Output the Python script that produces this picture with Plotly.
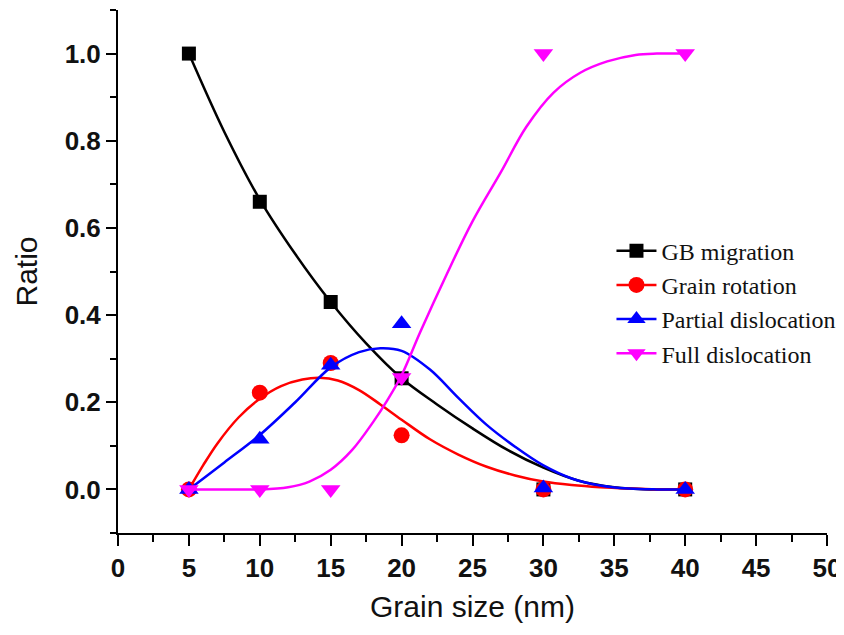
import plotly.graph_objects as go

# Measured data points
grain_size = [5, 10, 15, 20, 30, 40]
gb_migration = [1.0, 0.66, 0.43, 0.255, 0.0, 0.0]
grain_rotation = [0.0, 0.222, 0.29, 0.124, 0.0, 0.0]
partial_dislocation = [0.0, 0.115, 0.285, 0.38, 0.003, 0.0]
full_dislocation = [0.0, 0.0, 0.0, 0.257, 1.0, 1.0]

# Fitted curves
gb_fit_x = [5, 7.5, 10, 12.5, 15, 17.5, 20, 22.5, 25, 27.5, 30, 32.5, 35, 37.5, 40]
gb_fit_y = [1.0, 0.82, 0.665, 0.54, 0.43, 0.335, 0.255, 0.195, 0.14, 0.09, 0.05, 0.02, 0.005, 0.0, 0.0]

rot_fit_x = [5, 6, 7, 8.5, 10, 11.5, 13, 14.2, 15.5, 17, 18.5, 20, 22, 24, 26, 28, 30, 32, 34, 36, 38, 40]
rot_fit_y = [0.0, 0.055, 0.105, 0.165, 0.208, 0.237, 0.252, 0.256, 0.25, 0.228, 0.195, 0.16, 0.115, 0.08, 0.052, 0.032, 0.018, 0.01, 0.005, 0.002, 0.0, 0.0]

par_fit_x = [5, 7.5, 10, 12.5, 15, 17, 18.5, 20, 22, 24, 26, 28, 30, 32, 34, 36, 38, 40]
par_fit_y = [0.0, 0.062, 0.125, 0.2, 0.28, 0.315, 0.324, 0.318, 0.275, 0.21, 0.148, 0.098, 0.055, 0.025, 0.009, 0.002, 0.0, 0.0]

full_fit_x = [5, 8, 10, 12, 13.5, 15, 16.5, 18, 19, 20, 21.3, 23.2, 25, 27, 28.8, 30.7, 32.6, 34.5, 36.5, 38, 40]
full_fit_y = [0.0, 0.0, 0.0, 0.005, 0.018, 0.045, 0.09, 0.155, 0.205, 0.262, 0.36, 0.495, 0.615, 0.728, 0.832, 0.91, 0.956, 0.982, 0.997, 1.0, 1.0]

series = [
    ("GB migration", gb_migration, gb_fit_x, gb_fit_y, "#000000", "square", 14),
    ("Grain rotation", grain_rotation, rot_fit_x, rot_fit_y, "#FF0000", "circle", 16),
    ("Partial dislocation", partial_dislocation, par_fit_x, par_fit_y, "#0000FF", "triangle-up", 17),
    ("Full dislocation", full_dislocation, full_fit_x, full_fit_y, "#FF00FF", "triangle-down", 17),
]

fig = go.Figure()
for name, vals, fx, fy, color, symbol, size in series:
    fig.add_trace(go.Scatter(
        x=fx, y=fy, mode="lines", line=dict(color=color, width=2.5, shape="spline", smoothing=1.0),
        showlegend=False, hoverinfo="skip"))
    fig.add_trace(go.Scatter(
        x=grain_size, y=vals, mode="markers",
        marker=dict(color=color, symbol=symbol, size=size, line=dict(width=0)),
        showlegend=False, name=name))
for name, vals, fx, fy, color, symbol, size in series:
    fig.add_trace(go.Scatter(
        x=[None], y=[None], mode="lines+markers", name=name,
        line=dict(color=color, width=2.5),
        marker=dict(color=color, symbol=symbol, size=size)))

tickfont = dict(family="Liberation Sans, Arial", size=26, color="#111111", weight="bold")
fig.update_layout(
    width=836, height=627,
    margin=dict(l=110, r=17, t=2, b=102),
    plot_bgcolor="white", paper_bgcolor="white",
    legend=dict(
        x=1.019, y=0.582, xanchor="right", yanchor="top",
        font=dict(family="Liberation Serif, Times New Roman", size=24, color="#111111"),
        bgcolor="rgba(0,0,0,0)", itemwidth=40, tracegroupgap=0,
    ),
)
fig.update_xaxes(
    range=[0, 50], dtick=5, tick0=0, automargin=False,
    showline=True, linecolor="black", linewidth=2, mirror=False,
    ticks="outside", ticklen=11, tickwidth=2, tickcolor="black",
    minor=dict(dtick=2.5, tick0=0, ticks="outside", ticklen=7, tickwidth=2, tickcolor="black"),
    showgrid=False, zeroline=False,
    tickfont=tickfont,
    title=dict(text="Grain size (nm)", font=dict(family="Liberation Sans, Arial", size=30, color="#111111"), standoff=14),
)
fig.update_yaxes(
    range=[-0.1, 1.1], dtick=0.2, tick0=0, tickformat=".1f", automargin=False,
    showline=True, linecolor="black", linewidth=2, mirror=False,
    ticks="outside", ticklen=10, tickwidth=2, tickcolor="black",
    minor=dict(dtick=0.1, tick0=0, ticks="outside", ticklen=6, tickwidth=2, tickcolor="black"),
    showgrid=False, zeroline=False,
    tickfont=tickfont,
    title=dict(text="Ratio", font=dict(family="Liberation Sans, Arial", size=30, color="#111111"), standoff=18),
)

fig.write_html("out.html")
